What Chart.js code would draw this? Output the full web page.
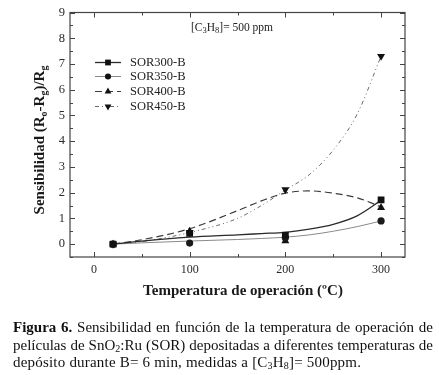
<!DOCTYPE html>
<html>
<head>
<meta charset="utf-8">
<script src="https://cdn.jsdelivr.net/npm/chart.js@4"></script>
<style>
  html, body { margin: 0; padding: 0; background: #fff; }
  #wrap { position: relative; width: 439px; height: 375px; }
  #chart { position: absolute; left: 0; top: 0; }
  #caption {
    position: absolute; left: 13px; top: 319px; width: 420px;
    font-family: "Liberation Serif", serif; font-size: 15px; line-height: 17.5px;
    color: #111;
  }
  #caption .ln { display: block; white-space: nowrap; text-align: justify; text-align-last: justify; }
  #caption .last { text-align-last: left; letter-spacing: 0.2px; }
  #caption sub { font-size: 10px; line-height: 0; vertical-align: -2px; }
</style>
</head>
<body>
<div id="wrap">
  <canvas id="chart" width="439" height="375"></canvas>
  <div id="caption"><span class="ln"><b>Figura 6.</b> Sensibilidad en función de la temperatura de operación de</span><span class="ln">películas de SnO<sub>2</sub>:Ru (SOR) depositadas a diferentes temperaturas de</span><span class="ln last">depósito durante B= 6 min, medidas a [C<sub>3</sub>H<sub>8</sub>]= 500ppm.</span></div>
</div>
<script>
(function() {
  const temps = [20, 100, 200, 300];
  const sor300 = [0, 0.42, 0.35, 1.72];
  const sor350 = [0, 0.04, 0.25, 0.9];
  const sor400 = [0, 0.5, 0.12, 1.42];
  const sor450 = [0, 0.45, 2.12, 7.3];

  const fitTemps = [20, 50, 100, 150, 175, 200, 225, 250, 275, 300];
  const fit300 = [0, 0.12, 0.27, 0.36, 0.41, 0.46, 0.58, 0.77, 1.1, 1.7];
  const fit350 = [0, 0.05, 0.12, 0.18, 0.22, 0.27, 0.36, 0.5, 0.68, 0.9];
  const fit400 = [0, 0.17, 0.6, 1.3, 1.68, 1.98, 2.07, 1.98, 1.8, 1.45];
  const fit450 = [0, 0.1, 0.45, 1.0, 1.5, 2.1, 2.7, 3.65, 5.05, 7.3];

  const labels = ['SOR300-B', 'SOR350-B', 'SOR400-B', 'SOR450-B'];

  // Ticks
  const xMajor = [0, 100, 200, 300];
  const xMinor = [50, 150, 250];
  const yMajor = [0, 1, 2, 3, 4, 5, 6, 7, 8, 9];
  const yMinor = [-0.5, 0.5, 1.5, 2.5, 3.5, 4.5, 5.5, 6.5, 7.5, 8.5];

  const serif = '"Liberation Serif", "DejaVu Serif", serif';

  // estilos de cada serie
  const styles = [
    { color: '#2a2a2a', width: 1.3, dash: [], marker: 'rect', rot: 0, r: 4.8 },
    { color: '#8a8a8a', width: 1.0, dash: [], marker: 'circle', rot: 0, r: 3.6, markerColor: '#1a1a1a' },
    { color: '#3a3a3a', width: 1.2, dash: [7, 4], marker: 'triangle', rot: 0, r: 4.6 },
    { color: '#6a6a6a', width: 1.0, dash: [4, 3, 1, 3, 1, 3], marker: 'triangle', rot: 180, r: 4.6 }
  ];
  const points = [sor300, sor350, sor400, sor450];
  const fits = [fit300, fit350, fit400, fit450];

  const datasets = [];
  fits.forEach((f, i) => {
    datasets.push({
      type: 'line',
      label: labels[i] + ' fit',
      data: fitTemps.map((t, k) => ({ x: t, y: f[k] })),
      borderColor: styles[i].color,
      borderWidth: styles[i].width,
      borderDash: styles[i].dash,
      pointRadius: 0,
      fill: false,
      tension: 0.4,
      cubicInterpolationMode: 'monotone',
      order: 2
    });
  });
  points.forEach((p, i) => {
    datasets.push({
      type: 'scatter',
      label: labels[i],
      data: temps.map((t, k) => ({ x: t, y: p[k] })),
      pointStyle: styles[i].marker,
      rotation: styles[i].rot,
      pointRadius: styles[i].r,
      backgroundColor: styles[i].markerColor || '#111',
      borderColor: styles[i].markerColor || '#111',
      borderWidth: 0,
      showLine: false,
      order: 1
    });
  });

  // Marco, ticks hacia dentro, títulos y leyenda
  const decorPlugin = {
    id: 'decor',
    afterDraw(chart) {
      const ctx = chart.ctx;
      const a = chart.chartArea;
      const xs = chart.scales.x, ys = chart.scales.y;
      ctx.save();
      ctx.strokeStyle = '#444';
      ctx.lineWidth = 1.2;
      ctx.setLineDash([]);
      ctx.strokeRect(a.left, a.top, a.right - a.left, a.bottom - a.top);

      ctx.lineWidth = 1;
      const tickX = (vals, len) => vals.forEach(v => {
        const px = Math.round(xs.getPixelForValue(v)) + 0.5;
        ctx.beginPath();
        ctx.moveTo(px, a.bottom); ctx.lineTo(px, a.bottom - len);
        ctx.moveTo(px, a.top); ctx.lineTo(px, a.top + len);
        ctx.stroke();
      });
      const tickY = (vals, len) => vals.forEach(v => {
        const py = Math.round(ys.getPixelForValue(v)) + 0.5;
        ctx.beginPath();
        ctx.moveTo(a.left, py); ctx.lineTo(a.left + len, py);
        ctx.moveTo(a.right, py); ctx.lineTo(a.right - len, py);
        ctx.stroke();
      });
      tickX(xMajor, 5); tickX(xMinor, 3);
      tickY(yMajor, 5); tickY(yMinor, 3);

      // título eje X
      ctx.fillStyle = '#1a1a1a';
      ctx.font = 'bold 15px ' + serif;
      ctx.textAlign = 'center';
      ctx.textBaseline = 'middle';
      ctx.fillText('Temperatura de operación (ºC)', 243, 291);

      // título eje Y con subíndices
      ctx.save();
      ctx.translate(40, 140);
      ctx.rotate(-Math.PI / 2);
      const parts = [
        ['Sensibilidad (R', 15, 0], ['o', 10, 4], ['-R', 15, 0], ['g', 10, 4], [')/R', 15, 0], ['g', 10, 4]
      ];
      let total = 0;
      parts.forEach(p => { ctx.font = 'bold ' + p[1] + 'px ' + serif; total += ctx.measureText(p[0]).width; });
      let cx = -total / 2;
      ctx.textAlign = 'left';
      parts.forEach(p => {
        ctx.font = 'bold ' + p[1] + 'px ' + serif;
        ctx.fillText(p[0], cx, p[2]);
        cx += ctx.measureText(p[0]).width;
      });
      ctx.restore();

      // anotación [C3H8]= 500 ppm
      ctx.textAlign = 'left';
      ctx.fillStyle = '#222';
      let ax = 191;
      const ann = [['[C', 11.5, 0], ['3', 8.5, 3], ['H', 11.5, 0], ['8', 8.5, 3], [']= 500 ppm', 11.5, 0]];
      ann.forEach(p => {
        ctx.font = p[1] + 'px ' + serif;
        ctx.fillText(p[0], ax, 28 + p[2]);
        ax += ctx.measureText(p[0]).width;
      });

      // leyenda
      const rowY = [62, 76, 91, 106];
      labels.forEach((lab, i) => {
        const s = styles[i];
        const y = rowY[i] + 0.5;
        ctx.strokeStyle = s.color;
        ctx.lineWidth = s.width;
        ctx.setLineDash(s.dash);
        ctx.beginPath(); ctx.moveTo(95, y); ctx.lineTo(121, y); ctx.stroke();
        ctx.setLineDash([]);
        ctx.fillStyle = '#111';
        Chart.helpers.drawPoint(ctx, {
          pointStyle: s.marker, rotation: s.rot, radius: s.r * 0.85, borderWidth: 0
        }, 108, y);
        ctx.fillStyle = '#222';
        ctx.font = '12.5px ' + serif;
        ctx.textBaseline = 'middle';
        ctx.fillText(lab, 130, y + 0.5);
      });
      ctx.restore();
    }
  };

  const canvas = document.getElementById('chart');
  new Chart(canvas.getContext('2d'), {
    type: 'scatter',
    data: { datasets },
    options: {
      responsive: false,
      animation: false,
      devicePixelRatio: 1,
      layout: { padding: { top: 12, right: 34, left: 0, bottom: 0 } },
      plugins: { legend: { display: false }, tooltip: { enabled: false } },
      scales: {
        x: {
          type: 'linear', min: -25, max: 325,
          grid: { display: false, drawTicks: false },
          border: { display: false },
          ticks: { color: '#2a2a2a', font: { family: serif, size: 12 }, padding: 6 },
          afterBuildTicks: axis => { axis.ticks = xMajor.map(v => ({ value: v })); },
          afterFit: scale => { scale.height = 375 - 257; }
        },
        y: {
          type: 'linear', min: -0.5, max: 9,
          grid: { display: false, drawTicks: false },
          border: { display: false },
          ticks: { color: '#2a2a2a', font: { family: serif, size: 12.5 }, padding: 5 },
          afterBuildTicks: axis => { axis.ticks = yMajor.map(v => ({ value: v })); },
          afterFit: scale => { scale.width = 70; }
        }
      }
    },
    plugins: [decorPlugin]
  });
})();
</script>
</body>
</html>
